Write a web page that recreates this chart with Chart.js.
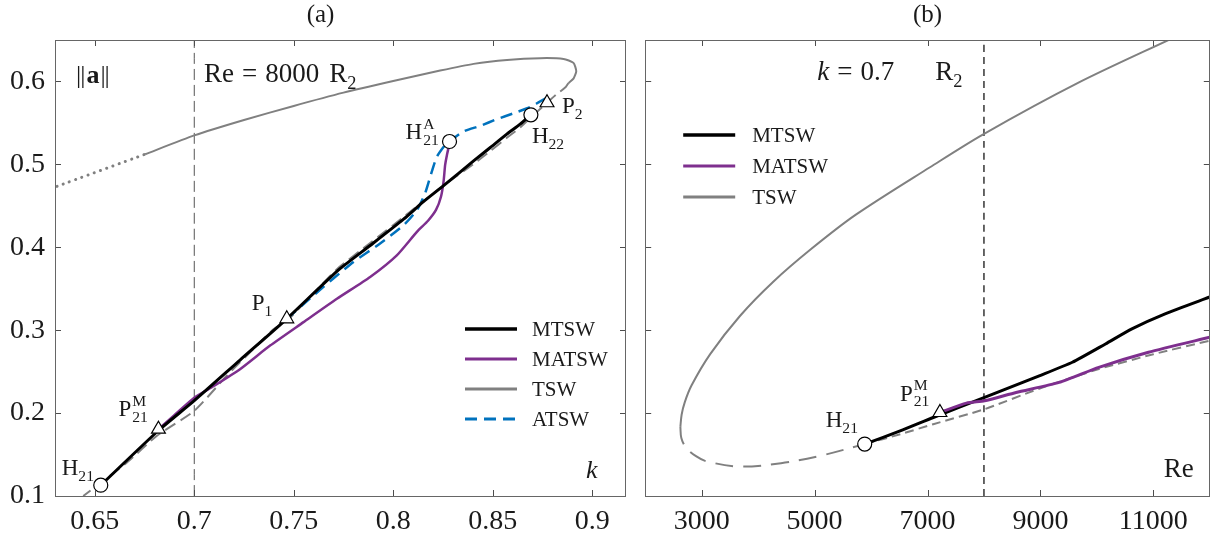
<!DOCTYPE html>
<html><head><meta charset="utf-8">
<script src="https://cdn.jsdelivr.net/npm/chart.js@4.4.1/dist/chart.umd.min.js"></script>
<style>
html,body{margin:0;padding:0;background:#fff;overflow:hidden;width:1219px;height:541px}
#wa{position:absolute;left:0;top:0;width:636px;height:541px}
#wb{position:absolute;left:636px;top:0;width:583px;height:541px}
</style></head><body>
<div id="wa"><canvas id="ca"></canvas></div>
<div id="wb"><canvas id="cb"></canvas></div>
<script>
// ---------- tick values / labels ----------
const kTicks = [0.65, 0.70, 0.75, 0.80, 0.85, 0.90];
const kTickLabels = ['0.65', '0.7', '0.75', '0.8', '0.85', '0.9'];
const aTicks = [0.1, 0.2, 0.3, 0.4, 0.5, 0.6];
const aTickLabels = ['0.1', '0.2', '0.3', '0.4', '0.5', '0.6'];
const reTicks = [3000, 5000, 7000, 9000, 11000];
const reTickLabels = ['3000', '5000', '7000', '9000', '11000'];

// ---------- panel (a): Re = 8000, x = k ----------
const tswDotA_k = [0.631, 0.6753];
const tswDotA_a = [0.4735, 0.5122];
const tswSolidA_k = [0.6753, 0.70, 0.725, 0.75, 0.775, 0.80, 0.8236, 0.8404, 0.8572, 0.8739, 0.8856, 0.8906, 0.8920, 0.8906, 0.8881];
const tswSolidA_a = [0.5122, 0.5349, 0.5535, 0.5705, 0.5865, 0.6005, 0.6131, 0.6212, 0.6260, 0.6281, 0.6272, 0.6224, 0.6124, 0.6034, 0.5982];
const tswDashA_k = [0.8881, 0.8866, 0.8823, 0.8773, 0.8730, 0.8692, 0.8638, 0.8571, 0.8488, 0.8404, 0.8253, 0.8052, 0.7884, 0.7717, 0.7465, 0.7398, 0.7314, 0.7163, 0.70, 0.6811, 0.666, 0.6442];
const tswDashA_a = [0.5982, 0.5930, 0.5849, 0.5743, 0.5650, 0.5565, 0.5445, 0.5320, 0.5160, 0.5005, 0.4745, 0.4365, 0.4050, 0.3735, 0.3110, 0.3010, 0.2814, 0.2450, 0.2027, 0.1724, 0.1400, 0.1000];
const mtswA_k = [0.653, 0.682, 0.70, 0.723, 0.7465, 0.7717, 0.7884, 0.8052, 0.8152, 0.8253, 0.8404, 0.8488, 0.8571, 0.8638, 0.8692];
const mtswA_a = [0.113, 0.1790, 0.2150, 0.2640, 0.3137, 0.3710, 0.4021, 0.4339, 0.4550, 0.4743, 0.5041, 0.5203, 0.5364, 0.5485, 0.5598];
const matswA_k = [0.682, 0.690, 0.700, 0.710, 0.723, 0.7381, 0.7549, 0.7717, 0.7884, 0.8018, 0.8119, 0.8175, 0.8215, 0.8240, 0.8253, 0.8261, 0.8270, 0.8283];
const matswA_a = [0.1806, 0.1975, 0.2185, 0.2330, 0.2530, 0.2814, 0.3097, 0.3379, 0.3642, 0.3903, 0.4186, 0.4320, 0.4450, 0.4610, 0.4792, 0.4993, 0.5114, 0.5250];
const atswA_k = [0.7465, 0.7599, 0.78, 0.7934, 0.8052, 0.8119, 0.8160, 0.8186, 0.8219, 0.8261, 0.8283, 0.8353, 0.8438, 0.8521, 0.8604, 0.8688, 0.8739, 0.8789];
const atswA_a = [0.3137, 0.3419, 0.3823, 0.4045, 0.4266, 0.4448, 0.4650, 0.4850, 0.5090, 0.5235, 0.5276, 0.5397, 0.5465, 0.5545, 0.5615, 0.5690, 0.5760, 0.5820];
const circlesA_k = [0.653, 0.8283, 0.8692];
const circlesA_a = [0.113, 0.5276, 0.5598];
const trianglesA_k = [0.682, 0.7465, 0.8773];
const trianglesA_a = [0.1806, 0.3137, 0.5743];
const refLineA_k = [0.7, 0.7];
const refLineA_a = [0.1, 0.65];

// ---------- panel (b): k = 0.7, x = Re ----------
const tswSolidB_re = [11365, 9683, 7987, 7044, 5725, 4933, 4273, 3678, 3151, 2822, 2700, 2645, 2623];
const tswSolidB_a = [0.6530, 0.5988, 0.5362, 0.4965, 0.4390, 0.3975, 0.3587, 0.3171, 0.2711, 0.2335, 0.2130, 0.1980, 0.1834];
const tswDashLongB_re = [2623, 2640, 2723, 2900, 3086, 3679, 4405, 5065, 5888];
const tswDashLongB_a = [0.1834, 0.1700, 0.1584, 0.1480, 0.1418, 0.1355, 0.1396, 0.1479, 0.1626];
const tswDashShortB_re = [5888, 6516, 7102, 8011, 9000, 10034, 11000, 12000];
const tswDashShortB_a = [0.1626, 0.1745, 0.1866, 0.2047, 0.2300, 0.2531, 0.2710, 0.2874];
const mtswB_re = [5888, 6516, 7102, 8011, 8979, 9565, 10152, 10620, 11208, 12000];
const mtswB_a = [0.1626, 0.1785, 0.1947, 0.2189, 0.2450, 0.2613, 0.2834, 0.3016, 0.3197, 0.3400];
const matswB_re = [7220, 7689, 8011, 8569, 9331, 10034, 10914, 12000];
const matswB_a = [0.2007, 0.2120, 0.2148, 0.2249, 0.2370, 0.2552, 0.2734, 0.2915];
const circlesB_re = [5888];
const circlesB_a = [0.1626];
const trianglesB_re = [7220];
const trianglesB_a = [0.2007];
const refLineB_re = [8000, 8000];
const refLineB_a = [0.1, 0.65];

// ---------- styling helpers ----------
const SERIF = "'Liberation Serif', 'DejaVu Serif', serif";
const C_BLACK = '#000000', C_PURPLE = '#7E2F8E', C_GRAY = '#808080', C_BLUE = '#0072BD';
const TXT = '#1a1a1a';

function mkPts(xs, ys) { return xs.map((x, i) => ({ x: x, y: ys[i] })); }
function lineDs(label, xs, ys, color, width, dash, order, inLegend, cap, tension) {
  return { label: label, data: mkPts(xs, ys), showLine: true, borderColor: color, backgroundColor: color,
    borderWidth: width, borderDash: dash || [], pointRadius: 0, pointHoverRadius: 0,
    tension: tension === undefined ? 0.2 : tension,
    order: order, inLegend: !!inLegend, borderCapStyle: cap || 'butt', borderJoinStyle: 'round' };
}
function markerDs(xs, ys, style, r, order) {
  return { label: '', data: mkPts(xs, ys), showLine: false, pointStyle: style, pointRadius: r, pointHoverRadius: r,
    pointBackgroundColor: '#ffffff', pointBorderColor: '#000000', pointBorderWidth: 1.2, order: order };
}

function drawRich(ctx, x, y, parts, size) {
  let cx = x;
  ctx.textBaseline = 'alphabetic';
  ctx.textAlign = 'left';
  for (const p of parts) {
    if (p.gap) { cx += p.gap; continue; }
    if (p.stack) {
      const fs = size * 0.68;
      ctx.font = fs + 'px ' + SERIF;
      const w1 = ctx.measureText(p.stack[0]).width, w2 = ctx.measureText(p.stack[1]).width;
      ctx.fillText(p.stack[0], cx + 1, y - size * 0.45);
      ctx.fillText(p.stack[1], cx + 1, y + size * 0.25);
      cx += Math.max(w1, w2) + 1;
      continue;
    }
    let fs = size, dy = 0;
    if (p.sub) { fs = size * 0.68; dy = size * 0.25; }
    ctx.font = (p.style || '') + ' ' + fs + 'px ' + SERIF;
    ctx.fillText(p.t, cx, y + dy);
    cx += ctx.measureText(p.t).width;
  }
  return cx - x;
}

const decor = {
  id: 'decor',
  afterDraw(chart, args, opts) {
    const ctx = chart.ctx, ca = chart.chartArea, sx = chart.scales.x, sy = chart.scales.y;
    ctx.save();
    ctx.strokeStyle = '#4d4d4d';
    ctx.lineWidth = 1;
    ctx.beginPath();
    sx.ticks.forEach(t => {
      const px = Math.round(sx.getPixelForValue(t.value)) + 0.5;
      ctx.moveTo(px, ca.top); ctx.lineTo(px, ca.top + 6);
      ctx.moveTo(px, ca.bottom); ctx.lineTo(px, ca.bottom - 6);
    });
    sy.ticks.forEach(t => {
      const py = Math.round(sy.getPixelForValue(t.value)) + 0.5;
      ctx.moveTo(ca.left, py); ctx.lineTo(ca.left + 6, py);
      ctx.moveTo(ca.right, py); ctx.lineTo(ca.right - 6, py);
    });
    ctx.stroke();
    ctx.strokeStyle = '#666666';
    ctx.strokeRect(Math.round(ca.left) + 0.5, Math.round(ca.top) + 0.5, Math.round(ca.right - ca.left) - 1, Math.round(ca.bottom - ca.top));

    if (opts.legend) {
      const L = opts.legend;
      let row = 0;
      chart.data.datasets.forEach(ds => {
        if (!ds.inLegend) return;
        const y = ca.top + L.dy + row * L.step;
        ctx.beginPath();
        ctx.strokeStyle = ds.borderColor;
        ctx.lineWidth = ds.legendWidth || ds.borderWidth;
        ctx.setLineDash(ds.borderDash || []);
        ctx.moveTo(ca.left + L.x0, y); ctx.lineTo(ca.left + L.x1, y);
        ctx.stroke();
        ctx.setLineDash([]);
        ctx.fillStyle = TXT;
        ctx.font = L.size + 'px ' + SERIF;
        ctx.textBaseline = 'middle';
        ctx.textAlign = 'left';
        ctx.fillText(ds.label, ca.left + L.tx, y + 1);
        row++;
      });
    }
    ctx.fillStyle = TXT;
    (opts.notes || []).forEach(n => {
      let x, y;
      if (n.anchor === 'tl') { x = ca.left + n.dx; y = ca.top + n.dy; }
      else if (n.anchor === 'br') { x = ca.right + n.dx; y = ca.bottom + n.dy; }
      else { x = sx.getPixelForValue(n.x) + n.dx; y = sy.getPixelForValue(n.y) + n.dy; }
      drawRich(ctx, x, y, n.parts, n.size || 22);
    });
    if (opts.title) {
      ctx.font = '25px ' + SERIF;
      ctx.textAlign = 'center';
      ctx.textBaseline = 'alphabetic';
      ctx.fillText(opts.title.text, ca.left + (ca.right - ca.left) * opts.title.frac, ca.top - 18);
    }
    ctx.restore();
  }
};

function axisY(showLabels, width) {
  return {
    type: 'linear', min: 0.1, max: 0.65, position: 'left',
    grid: { display: false, drawTicks: false }, border: { display: false },
    afterBuildTicks: s => { s.ticks = aTicks.map(v => ({ value: v })); },
    afterFit: s => { s.width = width; },
    ticks: { display: showLabels, padding: 10, color: TXT, font: { family: SERIF, size: 28 },
      autoSkip: false, callback: (v, i) => aTickLabels[i] }
  };
}
function axisX(min, max, ticks, labels) {
  return {
    type: 'linear', min: min, max: max, position: 'bottom',
    grid: { display: false, drawTicks: false }, border: { display: false },
    afterBuildTicks: s => { s.ticks = ticks.map(v => ({ value: v })); },
    afterFit: s => { s.height = 45; },
    ticks: { padding: 9, color: TXT, font: { family: SERIF, size: 28 }, autoSkip: false,
      maxRotation: 0, minRotation: 0, callback: (v, i) => labels[i] }
  };
}

const baseOpts = (extra) => Object.assign({
  responsive: true, maintainAspectRatio: false, animation: false, devicePixelRatio: 1, events: []
}, extra);

// ---------- chart (a) ----------
const dsA = [
  markerDs(circlesA_k, circlesA_a, 'circle', 7, 0),
  markerDs(trianglesA_k, trianglesA_a, 'triangle', 8, 0),
  lineDs('MTSW', mtswA_k, mtswA_a, C_BLACK, 3, [], 1, true),
  lineDs('MATSW', matswA_k, matswA_a, C_PURPLE, 2.5, [], 2, true),
  lineDs('TSW', tswSolidA_k, tswSolidA_a, C_GRAY, 2, [], 4, true),
  lineDs('ATSW', atswA_k, atswA_a, C_BLUE, 2.5, [12, 7], 3, true),
  lineDs('', tswDashA_k, tswDashA_a, C_GRAY, 2, [12, 6], 5, false),
  lineDs('', tswDotA_k, tswDotA_a, C_GRAY, 3, [0.1, 6.5], 5, false, 'round'),
  lineDs('', refLineA_k, refLineA_a, '#555555', 1, [11, 5], 6, false)
];
dsA[2].legendWidth = 3.5; dsA[3].legendWidth = 3; dsA[4].legendWidth = 3; dsA[5].legendWidth = 3;

new Chart(document.getElementById('ca'), {
  type: 'scatter',
  data: { datasets: dsA },
  options: baseOpts({
    layout: { padding: { left: 0, right: 10, top: 40, bottom: 0 } },
    scales: { x: axisX(0.63, 0.917, kTicks, kTickLabels), y: axisY(true, 55) },
    plugins: {
      legend: { display: false }, tooltip: { enabled: false },
      decor: {
        title: { text: '(a)', frac: 0.465 },
        legend: { x0: 410, x1: 462, tx: 477, dy: 289, step: 30, size: 21 },
        notes: [
          { anchor: 'tl', dx: 21, dy: 43, size: 26, parts: [{ t: '|' }, { gap: -1 }, { t: '|' }, { gap: 1 }, { t: 'a', style: 'bold' }, { gap: 1 }, { t: '|' }, { gap: -1 }, { t: '|' }] },
          { anchor: 'tl', dx: 149, dy: 42, size: 27, parts: [{ t: 'Re' }, { gap: 8 }, { t: '=' }, { gap: 8 }, { t: '8000' }, { gap: 10 }, { t: 'R' }, { t: '2', sub: true }] },
          { anchor: 'br', dx: -40, dy: -18, size: 26, parts: [{ t: 'k', style: 'italic' }] },
          { x: circlesA_k[0], y: circlesA_a[0], dx: -39, dy: -10, size: 23, parts: [{ t: 'H' }, { t: '21', sub: true }] },
          { x: trianglesA_k[0], y: trianglesA_a[0], dx: -40, dy: -13, size: 23, parts: [{ t: 'P' }, { stack: ['M', '21'] }] },
          { x: trianglesA_k[1], y: trianglesA_a[1], dx: -35, dy: -9, size: 23, parts: [{ t: 'P' }, { t: '1', sub: true }] },
          { x: circlesA_k[1], y: circlesA_a[1], dx: -44, dy: -2, size: 23, parts: [{ t: 'H' }, { stack: ['A', '21'] }] },
          { x: circlesA_k[2], y: circlesA_a[2], dx: 1, dy: 28, size: 23, parts: [{ t: 'H' }, { t: '22', sub: true }] },
          { x: trianglesA_k[2], y: trianglesA_a[2], dx: 15, dy: 10, size: 23, parts: [{ t: 'P' }, { t: '2', sub: true }] }
        ]
      }
    }
  }),
  plugins: [decor]
});

// ---------- chart (b) ----------
const dsB = [
  markerDs(circlesB_re, circlesB_a, 'circle', 7, 0),
  markerDs(trianglesB_re, trianglesB_a, 'triangle', 8, 0),
  lineDs('MTSW', mtswB_re, mtswB_a, C_BLACK, 3, [], 2, true),
  lineDs('MATSW', matswB_re, matswB_a, C_PURPLE, 3, [], 1, true),
  lineDs('TSW', tswSolidB_re, tswSolidB_a, C_GRAY, 2, [], 4, true, 'butt', 0.3),
  lineDs('', tswDashLongB_re, tswDashLongB_a, C_GRAY, 2, [18, 10], 5, false, 'butt', 0.35),
  lineDs('', tswDashShortB_re, tswDashShortB_a, C_GRAY, 2, [9, 5], 5, false),
  lineDs('', refLineB_re, refLineB_a, '#000000', 1.2, [7, 5], 6, false)
];
dsB[2].legendWidth = 3.5; dsB[3].legendWidth = 3; dsB[4].legendWidth = 3;

new Chart(document.getElementById('cb'), {
  type: 'scatter',
  data: { datasets: dsB },
  options: baseOpts({
    layout: { padding: { left: 0, right: 7, top: 40, bottom: 0 } },
    scales: { x: axisX(2000, 12000, reTicks, reTickLabels), y: axisY(false, 7) },
    plugins: {
      legend: { display: false }, tooltip: { enabled: false },
      decor: {
        title: { text: '(b)', frac: 0.5 },
        legend: { x0: 38, x1: 90, tx: 107, dy: 95, step: 31, size: 21 },
        notes: [
          { anchor: 'tl', dx: 172, dy: 40, size: 27, parts: [{ t: 'k', style: 'italic' }, { gap: 8 }, { t: '=' }, { gap: 8 }, { t: '0.7' }] },
          { anchor: 'tl', dx: 290, dy: 40, size: 27, parts: [{ t: 'R' }, { t: '2', sub: true }] },
          { anchor: 'br', dx: -46, dy: -19, size: 27, parts: [{ t: 'Re' }] },
          { x: circlesB_re[0], y: circlesB_a[0], dx: -39, dy: -17, size: 23, parts: [{ t: 'H' }, { t: '21', sub: true }] },
          { x: trianglesB_re[0], y: trianglesB_a[0], dx: -40, dy: -12, size: 23, parts: [{ t: 'P' }, { stack: ['M', '21'] }] }
        ]
      }
    }
  }),
  plugins: [decor]
});
</script>
</body></html>
